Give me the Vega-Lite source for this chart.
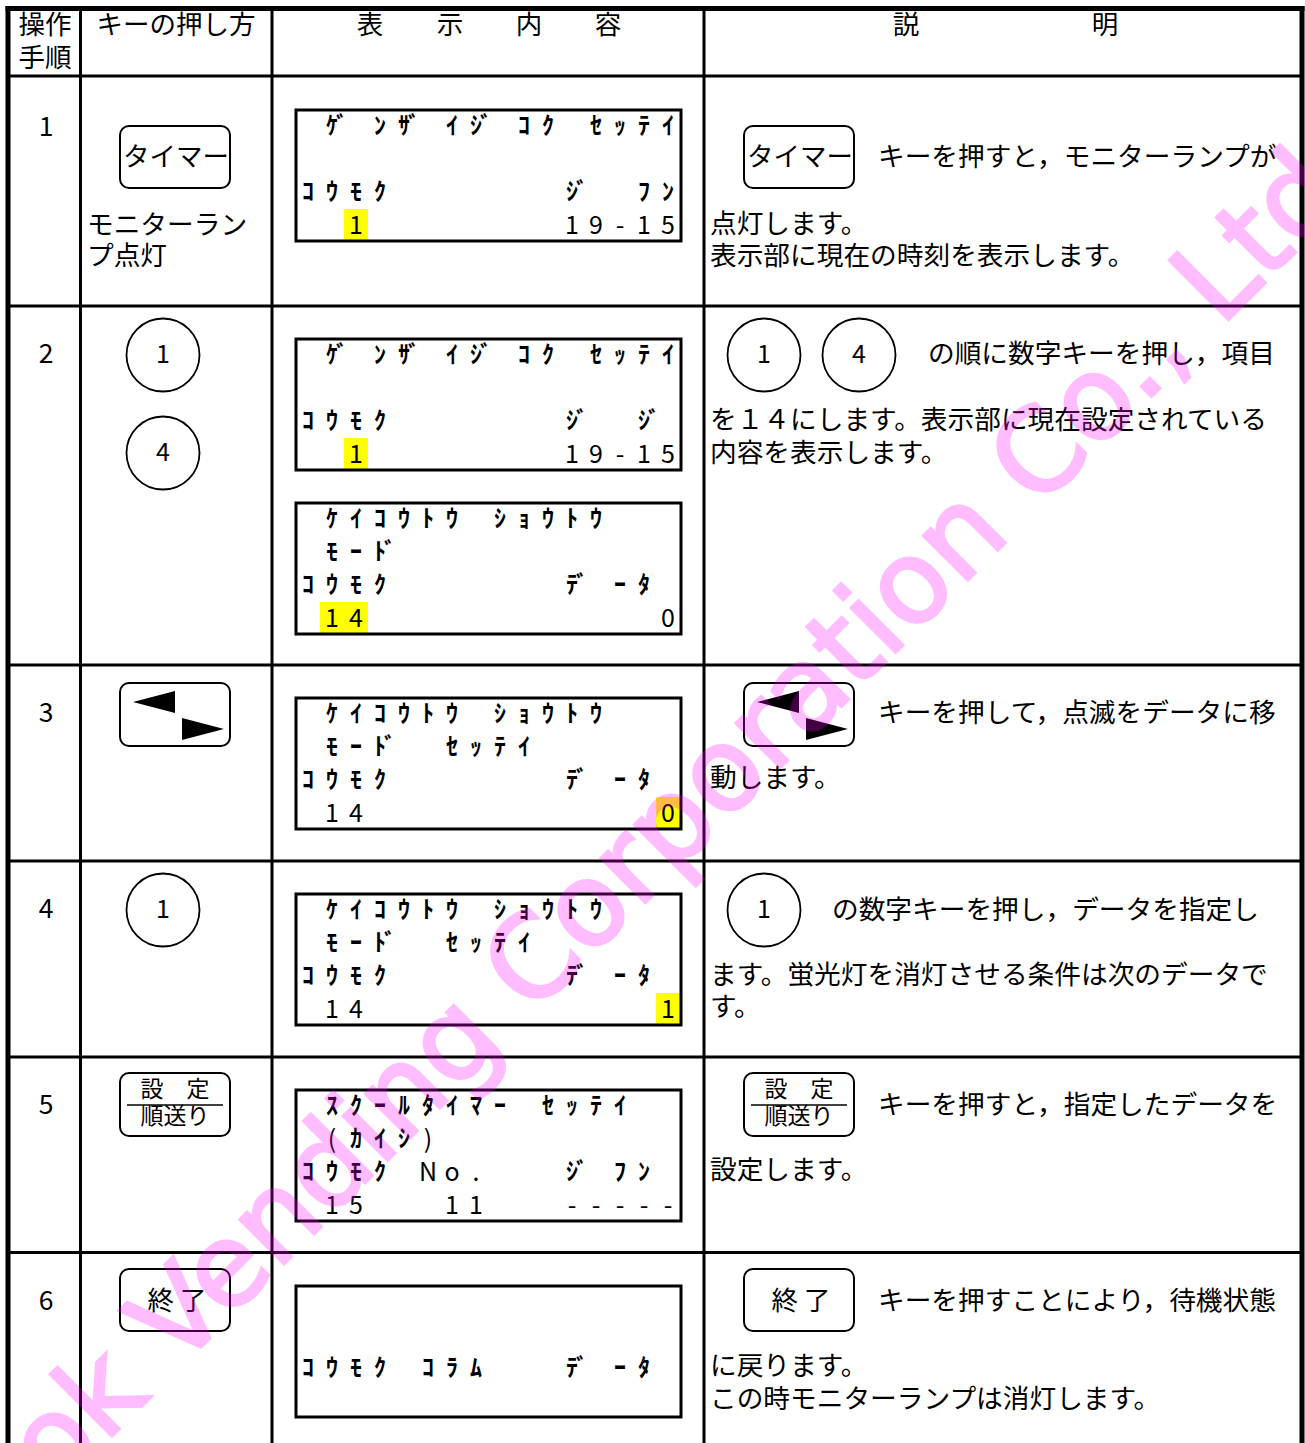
{
  "$schema": "https://vega.github.io/schema/vega-lite/v6.json",
  "width": 1305,
  "height": 1443,
  "padding": 0,
  "autosize": {"type": "none"},
  "background": "white",
  "config": {"view": {"stroke": null}, "text": {"font": "Noto Sans CJK JP"}},
  "datasets": {
    "highlights": [
      {"x": 344, "x2": 368, "y": 209, "y2": 240},
      {"x": 344, "x2": 368, "y": 438, "y2": 469},
      {"x": 320, "x2": 368, "y": 602, "y2": 633},
      {"x": 656, "x2": 680, "y": 797, "y2": 828},
      {"x": 656, "x2": 680, "y": 993, "y2": 1024}
    ],
    "displays": [
      {"x": 296, "x2": 681, "y": 110, "y2": 241},
      {"x": 296, "x2": 681, "y": 339, "y2": 470},
      {"x": 296, "x2": 681, "y": 503, "y2": 634},
      {"x": 296, "x2": 681, "y": 698, "y2": 829},
      {"x": 296, "x2": 681, "y": 894, "y2": 1025},
      {"x": 296, "x2": 681, "y": 1090, "y2": 1221},
      {"x": 296, "x2": 681, "y": 1286, "y2": 1417}
    ],
    "keys": [
      {"x": 120, "x2": 230, "y": 126, "y2": 188},
      {"x": 744, "x2": 854, "y": 126, "y2": 188},
      {"x": 120, "x2": 230, "y": 683, "y2": 746},
      {"x": 744, "x2": 854, "y": 683, "y2": 746},
      {"x": 120, "x2": 230, "y": 1073, "y2": 1136},
      {"x": 744, "x2": 854, "y": 1073, "y2": 1136},
      {"x": 120, "x2": 230, "y": 1269, "y2": 1331},
      {"x": 744, "x2": 854, "y": 1269, "y2": 1331}
    ],
    "keyrules": [
      {"x": 127, "x2": 223, "y": 1105, "y2": 1105},
      {"x": 751, "x2": 847, "y": 1105, "y2": 1105}
    ],
    "thin": [
      {"x": 80.5, "x2": 80.5, "y": 8, "y2": 1443},
      {"x": 272, "x2": 272, "y": 8, "y2": 1443},
      {"x": 704, "x2": 704, "y": 8, "y2": 1443},
      {"x": 8, "x2": 1302, "y": 76, "y2": 76},
      {"x": 8, "x2": 1302, "y": 306, "y2": 306},
      {"x": 8, "x2": 1302, "y": 665, "y2": 665},
      {"x": 8, "x2": 1302, "y": 861, "y2": 861},
      {"x": 8, "x2": 1302, "y": 1057, "y2": 1057},
      {"x": 8, "x2": 1302, "y": 1252.5, "y2": 1252.5}
    ],
    "thick": [
      {"x": 5.5, "x2": 1304.5, "y": 8.5, "y2": 8.5},
      {"x": 8, "x2": 8, "y": 6, "y2": 1443},
      {"x": 1302, "x2": 1302, "y": 6, "y2": 1443}
    ],
    "circles": [
      {"x": 163, "y": 355, "t": "1"},
      {"x": 163, "y": 453, "t": "4"},
      {"x": 163, "y": 910, "t": "1"},
      {"x": 764, "y": 355, "t": "1"},
      {"x": 859, "y": 355, "t": "4"},
      {"x": 764, "y": 910, "t": "1"}
    ],
    "triLeft": [
      {"x": 154, "y": 702},
      {"x": 778, "y": 702}
    ],
    "triRight": [
      {"x": 203, "y": 729},
      {"x": 827, "y": 729}
    ],
    "lcdKana": [
      {"x": 332, "y": 127, "t": "ｹ"}, {"x": 342, "y": 127, "t": "ﾞ"}, {"x": 380, "y": 127, "t": "ﾝ"}, {"x": 404, "y": 127, "t": "ｻ"}, {"x": 414, "y": 127, "t": "ﾞ"}, {"x": 452, "y": 127, "t": "ｲ"}, {"x": 476, "y": 127, "t": "ｼ"}, {"x": 486, "y": 127, "t": "ﾞ"}, {"x": 524, "y": 127, "t": "ｺ"}, {"x": 548, "y": 127, "t": "ｸ"}, {"x": 596, "y": 127, "t": "ｾ"}, {"x": 620, "y": 127, "t": "ｯ"}, {"x": 644, "y": 127, "t": "ﾃ"}, {"x": 668, "y": 127, "t": "ｲ"},
      {"x": 308, "y": 193, "t": "ｺ"}, {"x": 332, "y": 193, "t": "ｳ"}, {"x": 356, "y": 193, "t": "ﾓ"}, {"x": 380, "y": 193, "t": "ｸ"}, {"x": 572, "y": 193, "t": "ｼ"}, {"x": 582, "y": 193, "t": "ﾞ"}, {"x": 644, "y": 193, "t": "ﾌ"}, {"x": 668, "y": 193, "t": "ﾝ"},

      {"x": 332, "y": 356, "t": "ｹ"}, {"x": 342, "y": 356, "t": "ﾞ"}, {"x": 380, "y": 356, "t": "ﾝ"}, {"x": 404, "y": 356, "t": "ｻ"}, {"x": 414, "y": 356, "t": "ﾞ"}, {"x": 452, "y": 356, "t": "ｲ"}, {"x": 476, "y": 356, "t": "ｼ"}, {"x": 486, "y": 356, "t": "ﾞ"}, {"x": 524, "y": 356, "t": "ｺ"}, {"x": 548, "y": 356, "t": "ｸ"}, {"x": 596, "y": 356, "t": "ｾ"}, {"x": 620, "y": 356, "t": "ｯ"}, {"x": 644, "y": 356, "t": "ﾃ"}, {"x": 668, "y": 356, "t": "ｲ"},
      {"x": 308, "y": 422, "t": "ｺ"}, {"x": 332, "y": 422, "t": "ｳ"}, {"x": 356, "y": 422, "t": "ﾓ"}, {"x": 380, "y": 422, "t": "ｸ"}, {"x": 572, "y": 422, "t": "ｼ"}, {"x": 582, "y": 422, "t": "ﾞ"}, {"x": 644, "y": 422, "t": "ｼ"}, {"x": 654, "y": 422, "t": "ﾞ"},

      {"x": 332, "y": 520, "t": "ｹ"}, {"x": 356, "y": 520, "t": "ｲ"}, {"x": 380, "y": 520, "t": "ｺ"}, {"x": 404, "y": 520, "t": "ｳ"}, {"x": 428, "y": 520, "t": "ﾄ"}, {"x": 452, "y": 520, "t": "ｳ"}, {"x": 500, "y": 520, "t": "ｼ"}, {"x": 524, "y": 520, "t": "ｮ"}, {"x": 548, "y": 520, "t": "ｳ"}, {"x": 572, "y": 520, "t": "ﾄ"}, {"x": 596, "y": 520, "t": "ｳ"},
      {"x": 332, "y": 553, "t": "ﾓ"}, {"x": 356, "y": 553, "t": "ｰ"}, {"x": 380, "y": 553, "t": "ﾄ"}, {"x": 390, "y": 553, "t": "ﾞ"},
      {"x": 308, "y": 586, "t": "ｺ"}, {"x": 332, "y": 586, "t": "ｳ"}, {"x": 356, "y": 586, "t": "ﾓ"}, {"x": 380, "y": 586, "t": "ｸ"}, {"x": 572, "y": 586, "t": "ﾃ"}, {"x": 582, "y": 586, "t": "ﾞ"}, {"x": 620, "y": 586, "t": "ｰ"}, {"x": 644, "y": 586, "t": "ﾀ"},

      {"x": 332, "y": 715, "t": "ｹ"}, {"x": 356, "y": 715, "t": "ｲ"}, {"x": 380, "y": 715, "t": "ｺ"}, {"x": 404, "y": 715, "t": "ｳ"}, {"x": 428, "y": 715, "t": "ﾄ"}, {"x": 452, "y": 715, "t": "ｳ"}, {"x": 500, "y": 715, "t": "ｼ"}, {"x": 524, "y": 715, "t": "ｮ"}, {"x": 548, "y": 715, "t": "ｳ"}, {"x": 572, "y": 715, "t": "ﾄ"}, {"x": 596, "y": 715, "t": "ｳ"},
      {"x": 332, "y": 748, "t": "ﾓ"}, {"x": 356, "y": 748, "t": "ｰ"}, {"x": 380, "y": 748, "t": "ﾄ"}, {"x": 390, "y": 748, "t": "ﾞ"}, {"x": 452, "y": 748, "t": "ｾ"}, {"x": 476, "y": 748, "t": "ｯ"}, {"x": 500, "y": 748, "t": "ﾃ"}, {"x": 524, "y": 748, "t": "ｲ"},
      {"x": 308, "y": 781, "t": "ｺ"}, {"x": 332, "y": 781, "t": "ｳ"}, {"x": 356, "y": 781, "t": "ﾓ"}, {"x": 380, "y": 781, "t": "ｸ"}, {"x": 572, "y": 781, "t": "ﾃ"}, {"x": 582, "y": 781, "t": "ﾞ"}, {"x": 620, "y": 781, "t": "ｰ"}, {"x": 644, "y": 781, "t": "ﾀ"},

      {"x": 332, "y": 911, "t": "ｹ"}, {"x": 356, "y": 911, "t": "ｲ"}, {"x": 380, "y": 911, "t": "ｺ"}, {"x": 404, "y": 911, "t": "ｳ"}, {"x": 428, "y": 911, "t": "ﾄ"}, {"x": 452, "y": 911, "t": "ｳ"}, {"x": 500, "y": 911, "t": "ｼ"}, {"x": 524, "y": 911, "t": "ｮ"}, {"x": 548, "y": 911, "t": "ｳ"}, {"x": 572, "y": 911, "t": "ﾄ"}, {"x": 596, "y": 911, "t": "ｳ"},
      {"x": 332, "y": 944, "t": "ﾓ"}, {"x": 356, "y": 944, "t": "ｰ"}, {"x": 380, "y": 944, "t": "ﾄ"}, {"x": 390, "y": 944, "t": "ﾞ"}, {"x": 452, "y": 944, "t": "ｾ"}, {"x": 476, "y": 944, "t": "ｯ"}, {"x": 500, "y": 944, "t": "ﾃ"}, {"x": 524, "y": 944, "t": "ｲ"},
      {"x": 308, "y": 977, "t": "ｺ"}, {"x": 332, "y": 977, "t": "ｳ"}, {"x": 356, "y": 977, "t": "ﾓ"}, {"x": 380, "y": 977, "t": "ｸ"}, {"x": 572, "y": 977, "t": "ﾃ"}, {"x": 582, "y": 977, "t": "ﾞ"}, {"x": 620, "y": 977, "t": "ｰ"}, {"x": 644, "y": 977, "t": "ﾀ"},

      {"x": 332, "y": 1107, "t": "ｽ"}, {"x": 356, "y": 1107, "t": "ｸ"}, {"x": 380, "y": 1107, "t": "ｰ"}, {"x": 404, "y": 1107, "t": "ﾙ"}, {"x": 428, "y": 1107, "t": "ﾀ"}, {"x": 452, "y": 1107, "t": "ｲ"}, {"x": 476, "y": 1107, "t": "ﾏ"}, {"x": 500, "y": 1107, "t": "ｰ"}, {"x": 548, "y": 1107, "t": "ｾ"}, {"x": 572, "y": 1107, "t": "ｯ"}, {"x": 596, "y": 1107, "t": "ﾃ"}, {"x": 620, "y": 1107, "t": "ｲ"},
      {"x": 356, "y": 1140, "t": "ｶ"}, {"x": 380, "y": 1140, "t": "ｲ"}, {"x": 404, "y": 1140, "t": "ｼ"},
      {"x": 308, "y": 1173, "t": "ｺ"}, {"x": 332, "y": 1173, "t": "ｳ"}, {"x": 356, "y": 1173, "t": "ﾓ"}, {"x": 380, "y": 1173, "t": "ｸ"}, {"x": 572, "y": 1173, "t": "ｼ"}, {"x": 582, "y": 1173, "t": "ﾞ"}, {"x": 620, "y": 1173, "t": "ﾌ"}, {"x": 644, "y": 1173, "t": "ﾝ"},

      {"x": 308, "y": 1369, "t": "ｺ"}, {"x": 332, "y": 1369, "t": "ｳ"}, {"x": 356, "y": 1369, "t": "ﾓ"}, {"x": 380, "y": 1369, "t": "ｸ"}, {"x": 428, "y": 1369, "t": "ｺ"}, {"x": 452, "y": 1369, "t": "ﾗ"}, {"x": 476, "y": 1369, "t": "ﾑ"}, {"x": 572, "y": 1369, "t": "ﾃ"}, {"x": 582, "y": 1369, "t": "ﾞ"}, {"x": 620, "y": 1369, "t": "ｰ"}, {"x": 644, "y": 1369, "t": "ﾀ"}
    ],
    "lcdAscii": [
      {"x": 356, "y": 226, "t": "1"}, {"x": 572, "y": 226, "t": "1"}, {"x": 596, "y": 226, "t": "9"}, {"x": 620, "y": 226, "t": "-"}, {"x": 644, "y": 226, "t": "1"}, {"x": 668, "y": 226, "t": "5"},
      {"x": 356, "y": 455, "t": "1"}, {"x": 572, "y": 455, "t": "1"}, {"x": 596, "y": 455, "t": "9"}, {"x": 620, "y": 455, "t": "-"}, {"x": 644, "y": 455, "t": "1"}, {"x": 668, "y": 455, "t": "5"},
      {"x": 332, "y": 619, "t": "1"}, {"x": 356, "y": 619, "t": "4"}, {"x": 668, "y": 619, "t": "0"},
      {"x": 332, "y": 814, "t": "1"}, {"x": 356, "y": 814, "t": "4"}, {"x": 668, "y": 814, "t": "0"},
      {"x": 332, "y": 1010, "t": "1"}, {"x": 356, "y": 1010, "t": "4"}, {"x": 668, "y": 1010, "t": "1"},
      {"x": 332, "y": 1140, "t": "("}, {"x": 428, "y": 1140, "t": ")"},
      {"x": 428, "y": 1173, "t": "N"}, {"x": 452, "y": 1173, "t": "o"}, {"x": 476, "y": 1173, "t": "."},
      {"x": 332, "y": 1206, "t": "1"}, {"x": 356, "y": 1206, "t": "5"}, {"x": 452, "y": 1206, "t": "1"}, {"x": 476, "y": 1206, "t": "1"}, {"x": 572, "y": 1206, "t": "-"}, {"x": 596, "y": 1206, "t": "-"}, {"x": 620, "y": 1206, "t": "-"}, {"x": 644, "y": 1206, "t": "-"}, {"x": 668, "y": 1206, "t": "-"}
    ],
    "textLeft": [
      {"x": 87, "y": 226, "t": "モニターラン"},
      {"x": 87, "y": 257, "t": "プ点灯"},
      {"x": 878, "y": 158, "t": "キーを押すと，モニターランプが"},
      {"x": 710, "y": 225, "t": "点灯します。"},
      {"x": 710, "y": 257, "t": "表示部に現在の時刻を表示します。"},
      {"x": 928, "y": 355, "t": "の順に数字キーを押し，項目"},
      {"x": 710, "y": 421, "t": "を１４にします。表示部に現在設定されている"},
      {"x": 710, "y": 454, "t": "内容を表示します。"},
      {"x": 878, "y": 714, "t": "キーを押して，点滅をデータに移"},
      {"x": 710, "y": 779, "t": "動します。"},
      {"x": 832, "y": 911, "t": "の数字キーを押し，データを指定し"},
      {"x": 710, "y": 976, "t": "ます。蛍光灯を消灯させる条件は次のデータで"},
      {"x": 710, "y": 1008, "t": "す。"},
      {"x": 878, "y": 1106, "t": "キーを押すと，指定したデータを"},
      {"x": 710, "y": 1171, "t": "設定します。"},
      {"x": 878, "y": 1302, "t": "キーを押すことにより，待機状態"},
      {"x": 710, "y": 1367, "t": "に戻ります。"},
      {"x": 710, "y": 1400, "t": "この時モニターランプは消灯します。"}
    ],
    "textCenter": [
      {"x": 45, "y": 26, "t": "操作"},
      {"x": 45, "y": 59, "t": "手順"},
      {"x": 176, "y": 26, "t": "キーの押し方"},
      {"x": 370, "y": 26, "t": "表"},
      {"x": 450, "y": 26, "t": "示"},
      {"x": 529, "y": 26, "t": "内"},
      {"x": 608, "y": 26, "t": "容"},
      {"x": 906, "y": 26, "t": "説"},
      {"x": 1105, "y": 26, "t": "明"},
      {"x": 46, "y": 128, "t": "1"},
      {"x": 46, "y": 355, "t": "2"},
      {"x": 46, "y": 714, "t": "3"},
      {"x": 46, "y": 910, "t": "4"},
      {"x": 46, "y": 1106, "t": "5"},
      {"x": 46, "y": 1302, "t": "6"},
      {"x": 176, "y": 158, "t": "タイマー"},
      {"x": 800, "y": 158, "t": "タイマー"},
      {"x": 177, "y": 1302, "t": "終 了"},
      {"x": 801, "y": 1302, "t": "終 了"}
    ],
    "textSmall": [
      {"x": 175, "y": 1090, "t": "設　定"},
      {"x": 175, "y": 1117, "t": "順送り"},
      {"x": 799, "y": 1090, "t": "設　定"},
      {"x": 799, "y": 1117, "t": "順送り"}
    ],
    "watermark": [
      {"x": 702, "y": 846, "t": "ok Vending Corporation Co., Ltd"}
    ]
  },
  "encoding": {
    "x": {"field": "x", "type": "quantitative", "scale": {"domain": [0, 1305], "nice": false, "zero": false}, "axis": null},
    "y": {"field": "y", "type": "quantitative", "scale": {"domain": [0, 1443], "reverse": true, "nice": false, "zero": false}, "axis": null}
  },
  "layer": [
    {"data": {"name": "highlights"}, "mark": {"type": "rect", "color": "#ffff00"}, "encoding": {"x2": {"field": "x2"}, "y2": {"field": "y2"}}},
    {"data": {"name": "displays"}, "mark": {"type": "rect", "filled": false, "stroke": "black", "strokeWidth": 3}, "encoding": {"x2": {"field": "x2"}, "y2": {"field": "y2"}}},
    {"data": {"name": "keys"}, "mark": {"type": "rect", "filled": false, "stroke": "black", "strokeWidth": 2, "cornerRadius": 9}, "encoding": {"x2": {"field": "x2"}, "y2": {"field": "y2"}}},
    {"data": {"name": "keyrules"}, "mark": {"type": "rule", "color": "black", "strokeWidth": 1.5}, "encoding": {"x2": {"field": "x2"}, "y2": {"field": "y2"}}},
    {"data": {"name": "thin"}, "mark": {"type": "rule", "color": "black", "strokeWidth": 3}, "encoding": {"x2": {"field": "x2"}, "y2": {"field": "y2"}}},
    {"data": {"name": "thick"}, "mark": {"type": "rule", "color": "black", "strokeWidth": 5}, "encoding": {"x2": {"field": "x2"}, "y2": {"field": "y2"}}},
    {"data": {"name": "circles"}, "mark": {"type": "point", "shape": "circle", "size": 5329, "filled": false, "stroke": "black", "strokeWidth": 1.8, "opacity": 1}},
    {"data": {"name": "triLeft"}, "mark": {"type": "point", "shape": "M -1 0 L 1 -0.52 L 1 0.52 Z", "size": 1764, "filled": true, "color": "black", "opacity": 1}},
    {"data": {"name": "triRight"}, "mark": {"type": "point", "shape": "M 1 0 L -1 -0.52 L -1 0.52 Z", "size": 1764, "filled": true, "color": "black", "opacity": 1}},
    {"data": {"name": "circles"}, "mark": {"type": "text", "fontSize": 25, "align": "center", "baseline": "middle", "color": "black"}, "encoding": {"text": {"field": "t"}}},
    {"data": {"name": "lcdKana"}, "mark": {"type": "text", "fontSize": 24, "fontWeight": "bold", "align": "center", "baseline": "middle", "color": "black"}, "encoding": {"text": {"field": "t"}}},
    {"data": {"name": "lcdAscii"}, "mark": {"type": "text", "fontSize": 25, "align": "center", "baseline": "middle", "color": "black"}, "encoding": {"text": {"field": "t"}}},
    {"data": {"name": "textLeft"}, "mark": {"type": "text", "fontSize": 26.7, "align": "left", "baseline": "middle", "color": "black"}, "encoding": {"text": {"field": "t"}}},
    {"data": {"name": "textCenter"}, "mark": {"type": "text", "fontSize": 26.5, "align": "center", "baseline": "middle", "color": "black"}, "encoding": {"text": {"field": "t"}}},
    {"data": {"name": "textSmall"}, "mark": {"type": "text", "fontSize": 23, "align": "center", "baseline": "middle", "color": "black"}, "encoding": {"text": {"field": "t"}}},
    {"data": {"name": "watermark"}, "mark": {"type": "text", "font": "DejaVu Sans", "fontSize": 115, "angle": 315, "align": "center", "baseline": "alphabetic", "color": "#ff00ff", "stroke": "#ff00ff", "strokeWidth": 3, "opacity": 0.26}, "encoding": {"text": {"field": "t"}}}
  ]
}
